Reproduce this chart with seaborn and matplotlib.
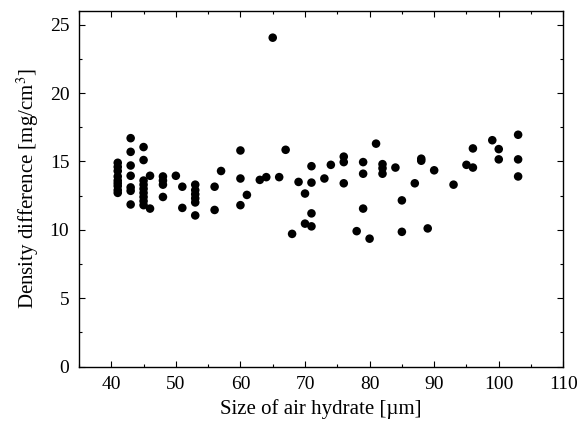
import matplotlib
matplotlib.use("Agg")
import matplotlib.pyplot as plt
import numpy as np
import pandas as pd
import seaborn as sns
from matplotlib.ticker import MultipleLocator

# Size of air hydrate [um] and density difference [mg/cm3], one entry per point
size_um = [
    41, 41, 41, 41, 41, 41, 41, 41, 41,
    43, 43, 43, 43, 43, 43, 43,
    45, 45, 45, 45, 45, 45, 45, 45, 45,
    46, 46,
    48, 48, 48, 48,
    50,
    51, 51,
    53, 53, 53, 53, 53, 53,
    56, 56,
    57,
    60, 60, 60,
    61, 63, 64, 65, 66, 67, 68, 69,
    70, 70,
    71, 71, 71, 71,
    73, 74,
    76, 76, 76,
    78,
    79, 79, 79,
    80, 81,
    82, 82, 82,
    84,
    85, 85,
    87,
    88, 88,
    89, 90, 93, 95,
    96, 96,
    99,
    100, 100,
    103, 103, 103,
]
density_diff = [
    14.9, 14.6, 14.3, 13.9, 13.6, 13.4, 13.2, 12.9, 12.7,
    16.7, 15.7, 14.7, 13.95, 13.1, 12.85, 11.85,
    16.05, 15.1, 13.6, 13.3, 13.0, 12.7, 12.4, 12.1, 11.8,
    13.95, 11.55,
    13.9, 13.6, 13.3, 12.4,
    13.95,
    13.15, 11.6,
    13.3, 12.9, 12.6, 12.3, 12.0, 11.05,
    13.15, 11.45,
    14.3,
    15.8, 13.75, 11.8,
    12.55, 13.65, 13.85, 24.05, 13.85, 15.85, 9.7, 13.5,
    12.65, 10.45,
    14.65, 13.45, 11.2, 10.25,
    13.75, 14.75,
    15.35, 14.95, 13.4,
    9.9,
    14.95, 14.1, 11.55,
    9.35, 16.3,
    14.8, 14.5, 14.1,
    14.55,
    12.15, 9.85,
    13.4,
    15.2, 15.05,
    10.1, 14.35, 13.3, 14.75,
    15.95, 14.55,
    16.55,
    15.9, 15.15,
    16.95, 15.15, 13.9,
]

df = pd.DataFrame({"size": size_um, "density": density_diff})

sns.set_theme(style="ticks")
plt.rcParams["font.family"] = ["Liberation Serif", "DejaVu Serif"]
plt.rcParams["mathtext.fontset"] = "stix"
plt.rcParams["text.color"] = "black"
plt.rcParams["axes.labelcolor"] = "black"
plt.rcParams["xtick.color"] = "black"
plt.rcParams["ytick.color"] = "black"

fig = plt.figure(figsize=(5.86, 4.32), dpi=100)
ax = fig.add_axes([0.1348, 0.1516, 0.8265, 0.8229])

sns.scatterplot(data=df, x="size", y="density", ax=ax, color="black",
                s=38, edgecolor="none", legend=False)

ax.set_xlim(35, 110)
ax.set_ylim(0, 26)
ax.xaxis.set_major_locator(MultipleLocator(10))
ax.xaxis.set_minor_locator(MultipleLocator(5))
ax.yaxis.set_major_locator(MultipleLocator(5))
ax.yaxis.set_minor_locator(MultipleLocator(2.5))

# Inward ticks on all four sides, labels only bottom / left
ax.tick_params(which="both", direction="in", top=True, right=True,
               color="black", labelcolor="black", width=0.8)
ax.tick_params(which="major", length=4.5, labelsize=14, pad=7)
ax.tick_params(which="minor", length=2.5)
for sp in ax.spines.values():
    sp.set_color("black")
    sp.set_linewidth(1.0)

ax.set_xticks([40, 50, 60, 70, 80, 90, 100, 110])
ax.set_xlabel("Size of air hydrate [\u00b5m]", fontsize=15, labelpad=4,
              color="black")
ax.set_ylabel("Density difference [mg/cm$^3$]", fontsize=15, labelpad=6,
              color="black")

fig.savefig("out.png", dpi=100)
